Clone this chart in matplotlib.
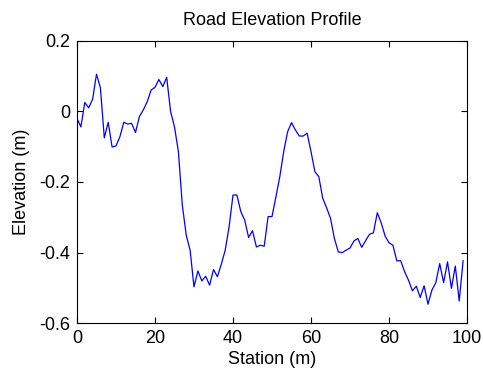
import numpy as np
import matplotlib
matplotlib.use('Agg')
import matplotlib.pyplot as plt

plt.rcParams['font.family'] = ['Liberation Sans', 'DejaVu Sans']

# station (m) and elevation (m)
station = np.arange(0, 100)
elevation = [
    -0.020, -0.044, 0.025, 0.010, 0.034, 0.105, 0.067, -0.075, -0.031, -0.101,
    -0.098, -0.072, -0.031, -0.036, -0.034, -0.060, -0.015, 0.004, 0.027, 0.060,
    0.068, 0.090, 0.070, 0.096, -0.001, -0.044, -0.114, -0.265, -0.350, -0.393,
    -0.497, -0.452, -0.480, -0.467, -0.492, -0.448, -0.468, -0.433, -0.393, -0.327,
    -0.237, -0.237, -0.284, -0.308, -0.357, -0.338, -0.384, -0.379, -0.382, -0.298,
    -0.298, -0.242, -0.185, -0.114, -0.058, -0.032, -0.053, -0.070, -0.070, -0.062,
    -0.114, -0.171, -0.185, -0.246, -0.273, -0.303, -0.360, -0.398, -0.400, -0.393,
    -0.387, -0.367, -0.360, -0.385, -0.366, -0.348, -0.344, -0.287, -0.316, -0.353,
    -0.372, -0.379, -0.423, -0.423, -0.454, -0.478, -0.508, -0.495, -0.527, -0.494,
    -0.546, -0.506, -0.485, -0.431, -0.485, -0.426, -0.501, -0.438, -0.537, -0.423,
]
xticks = [0, 20, 40, 60, 80, 100]
yticks = [-0.6, -0.4, -0.2, 0, 0.2]
yticklabels = ['-0.6', '-0.4', '-0.2', '0', '0.2']

fig = plt.figure(figsize=(4.83, 3.73), dpi=100)
ax = fig.add_axes([0.1594, 0.1333, 0.8075, 0.7577])
ax.plot(station, elevation, color='#0000ff', linewidth=0.9)

ax.set_xlim(0, 100)
ax.set_ylim(-0.6, 0.2)
ax.set_xticks(xticks)
ax.set_yticks(yticks)
ax.set_yticklabels(yticklabels)
ax.tick_params(direction='in', top=True, right=True, labelsize=13, length=4, width=0.8, pad=5)
for s in ax.spines.values():
    s.set_linewidth(0.8)

ax.set_title('Road Elevation Profile', fontsize=13, pad=11.5)
ax.set_xlabel('Station (m)', fontsize=13, labelpad=3)
ax.set_ylabel('Elevation (m)', fontsize=13, labelpad=6.5)

fig.savefig('out.png', dpi=100)
